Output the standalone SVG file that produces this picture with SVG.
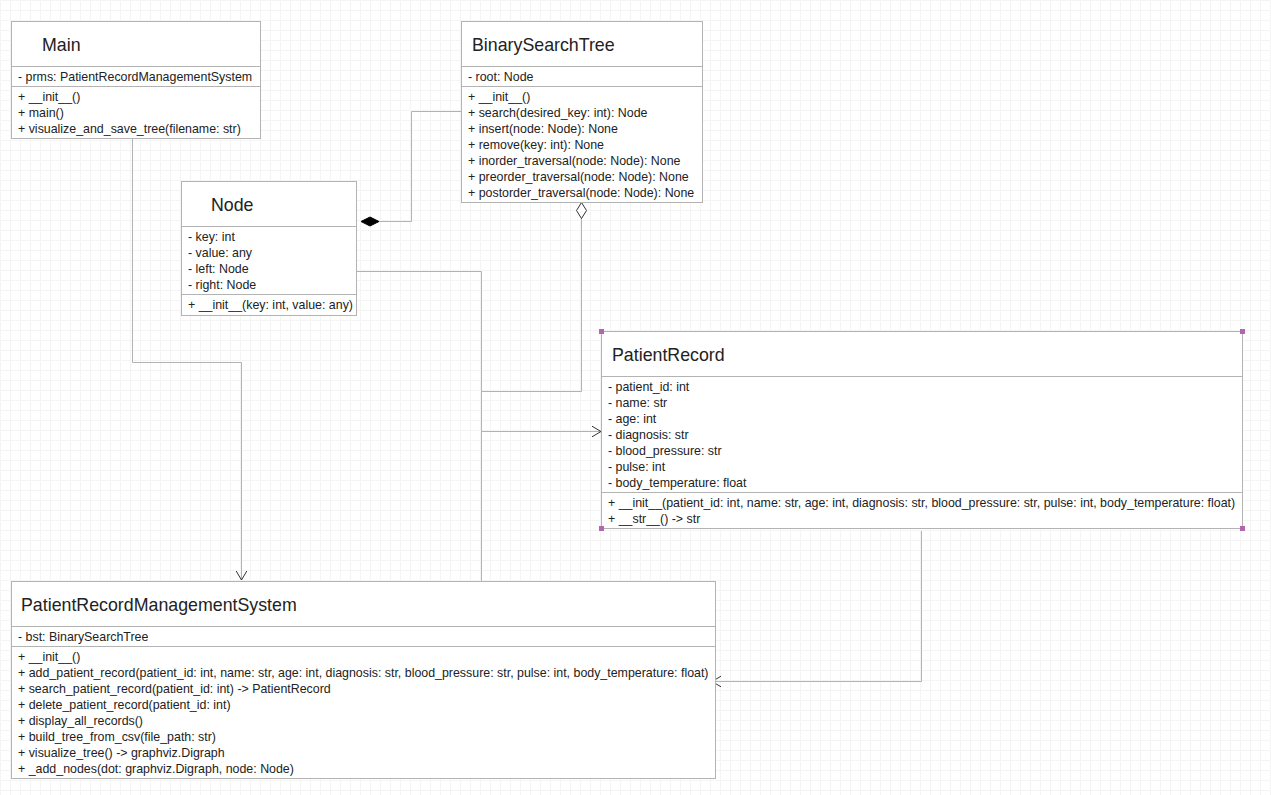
<svg xmlns="http://www.w3.org/2000/svg" width="1271" height="795" viewBox="0 0 1271 795">
<style>
.box{fill:#fff;stroke:#b3b3b3;stroke-width:1}
.sep{stroke:#b3b3b3;stroke-width:1}
.title{font-family:"Liberation Sans",Arial,sans-serif;font-size:17.8px;fill:#222}
.mem{font-family:"Liberation Sans",Arial,sans-serif;font-size:12.4px;fill:#222}
.conn{fill:none;stroke:#b3b3b3;stroke-width:1}
.handle{fill:#b266b2}
</style>
<defs>
<pattern id="grid" width="10" height="10" patternUnits="userSpaceOnUse">
<path d="M10,0.5 H0.5 V10" fill="none" stroke="#f4f4f4" stroke-width="1"/>
</pattern>
<marker id="open" markerUnits="userSpaceOnUse" markerWidth="14" markerHeight="14" refX="10" refY="6" orient="auto" viewBox="0 0 14 12">
<path d="M1,0.7 L10,6 L1,11.3" fill="none" stroke="#333" stroke-width="1"/>
</marker>
</defs>
<rect width="1271" height="795" fill="#fff"/>
<rect width="1271" height="795" fill="url(#grid)"/>

<g id="connectors">
<path class="conn" d="M132.5,138.5 V362.5 H241.5 V580" marker-end="url(#open)"/>
<path class="conn" d="M379,221.5 H411.5 V111.5 H461.5"/>
<polygon points="361,221.5 370,217 379,221.5 370,226" fill="#000" stroke="#000" stroke-width="1"/>
<path class="conn" d="M357,271.5 H481.5 V581"/>
<path class="conn" d="M481.5,431.5 H601" marker-end="url(#open)"/>
<path class="conn" d="M581.5,218.5 V391.5 H481.5"/>
<polygon points="581.5,202.5 586.5,210.5 581.5,218.5 576.5,210.5" fill="#fff" stroke="#333" stroke-width="1"/>
<path class="conn" d="M921.5,531 V681.5 H712" marker-end="url(#open)"/>
</g>

<g id="Main">
<rect class="box" x="11.5" y="21.5" width="249" height="117"/>
<line class="sep" x1="11.5" y1="66.5" x2="260.5" y2="66.5"/>
<line class="sep" x1="11.5" y1="86.5" x2="260.5" y2="86.5"/>
<text class="title" x="42" y="51">Main</text>
<text class="mem" x="18" y="81">- prms: PatientRecordManagementSystem</text>
<text class="mem" x="18" y="101">+ __init__()</text>
<text class="mem" x="18" y="117">+ main()</text>
<text class="mem" x="18" y="133">+ visualize_and_save_tree(filename: str)</text>
</g>

<g id="BinarySearchTree">
<rect class="box" x="461.5" y="21.5" width="241" height="181"/>
<line class="sep" x1="461.5" y1="66.5" x2="702.5" y2="66.5"/>
<line class="sep" x1="461.5" y1="86.5" x2="702.5" y2="86.5"/>
<text class="title" x="472" y="51">BinarySearchTree</text>
<text class="mem" x="468" y="81">- root: Node</text>
<text class="mem" x="468" y="101">+ __init__()</text>
<text class="mem" x="468" y="117">+ search(desired_key: int): Node</text>
<text class="mem" x="468" y="133">+ insert(node: Node): None</text>
<text class="mem" x="468" y="149">+ remove(key: int): None</text>
<text class="mem" x="468" y="165">+ inorder_traversal(node: Node): None</text>
<text class="mem" x="468" y="181">+ preorder_traversal(node: Node): None</text>
<text class="mem" x="468" y="197">+ postorder_traversal(node: Node): None</text>
</g>

<g id="Node">
<rect class="box" x="181.5" y="181.5" width="175" height="134"/>
<line class="sep" x1="181.5" y1="226.5" x2="356.5" y2="226.5"/>
<line class="sep" x1="181.5" y1="294.5" x2="356.5" y2="294.5"/>
<text class="title" x="211" y="211">Node</text>
<text class="mem" x="188" y="241">- key: int</text>
<text class="mem" x="188" y="257">- value: any</text>
<text class="mem" x="188" y="273">- left: Node</text>
<text class="mem" x="188" y="289">- right: Node</text>
<text class="mem" x="188" y="309">+ __init__(key: int, value: any)</text>
</g>

<g id="PatientRecord">
<rect class="box" x="601.5" y="331.5" width="641" height="197"/>
<line class="sep" x1="601.5" y1="376.5" x2="1242.5" y2="376.5"/>
<line class="sep" x1="601.5" y1="492.5" x2="1242.5" y2="492.5"/>
<text class="title" x="612" y="361">PatientRecord</text>
<text class="mem" x="608" y="391">- patient_id: int</text>
<text class="mem" x="608" y="407">- name: str</text>
<text class="mem" x="608" y="423">- age: int</text>
<text class="mem" x="608" y="439">- diagnosis: str</text>
<text class="mem" x="608" y="455">- blood_pressure: str</text>
<text class="mem" x="608" y="471">- pulse: int</text>
<text class="mem" x="608" y="487">- body_temperature: float</text>
<text class="mem" x="608" y="507">+ __init__(patient_id: int, name: str, age: int, diagnosis: str, blood_pressure: str, pulse: int, body_temperature: float)</text>
<text class="mem" x="608" y="523">+ __str__() -&gt; str</text>
<rect class="handle" x="599" y="329" width="5" height="5"/>
<rect class="handle" x="1240" y="329" width="5" height="5"/>
<rect class="handle" x="599" y="526" width="5" height="5"/>
<rect class="handle" x="1240" y="526" width="5" height="5"/>
</g>

<g id="PatientRecordManagementSystem">
<rect class="box" x="11.5" y="581.5" width="704" height="197"/>
<line class="sep" x1="11.5" y1="626.5" x2="715.5" y2="626.5"/>
<line class="sep" x1="11.5" y1="646.5" x2="715.5" y2="646.5"/>
<text class="title" x="21" y="611">PatientRecordManagementSystem</text>
<text class="mem" x="18" y="641">- bst: BinarySearchTree</text>
<text class="mem" x="18" y="661">+ __init__()</text>
<text class="mem" x="18" y="677">+ add_patient_record(patient_id: int, name: str, age: int, diagnosis: str, blood_pressure: str, pulse: int, body_temperature: float)</text>
<text class="mem" x="18" y="693">+ search_patient_record(patient_id: int) -&gt; PatientRecord</text>
<text class="mem" x="18" y="709">+ delete_patient_record(patient_id: int)</text>
<text class="mem" x="18" y="725">+ display_all_records()</text>
<text class="mem" x="18" y="741">+ build_tree_from_csv(file_path: str)</text>
<text class="mem" x="18" y="757">+ visualize_tree() -&gt; graphviz.Digraph</text>
<text class="mem" x="18" y="773">+ _add_nodes(dot: graphviz.Digraph, node: Node)</text>
</g>
</svg>
